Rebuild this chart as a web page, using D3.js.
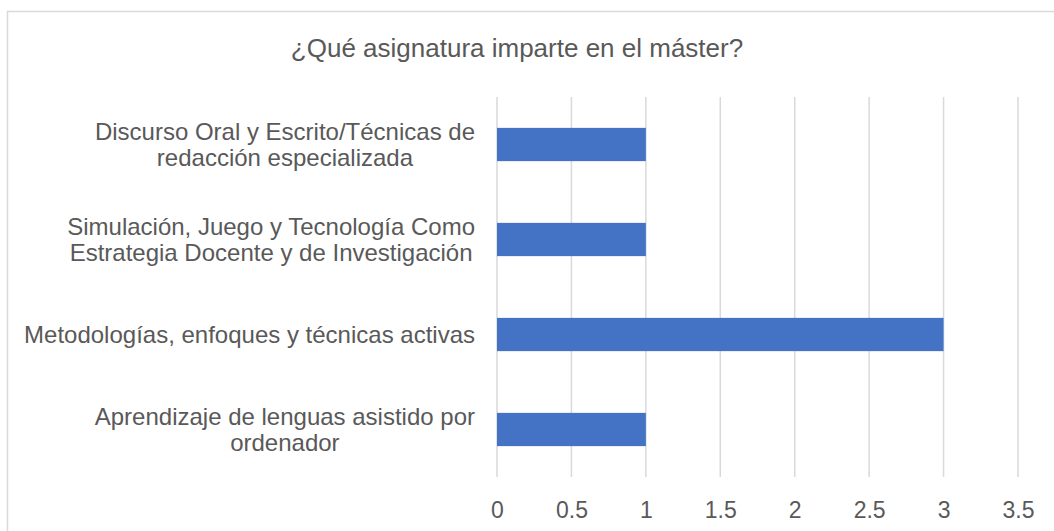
<!DOCTYPE html>
<html>
<head>
<meta charset="utf-8">
<script src="https://cdn.jsdelivr.net/npm/d3@7"></script>
<style>
  body { margin: 0; background: #fff; }
  svg { display: block; font-family: "Liberation Sans", Arial, sans-serif; }
</style>
</head>
<body>
<div id="chart"></div>
<script>
var title = "¿Qué asignatura imparte en el máster?";
var categories = [
	["Discurso Oral y Escrito/Técnicas de", "redacción especializada"],
	["Simulación, Juego y Tecnología Como", "Estrategia Docente y de Investigación"],
	["Metodologías, enfoques y técnicas activas"],
	["Aprendizaje de lenguas asistido por", "ordenador"]
];
var values = [1, 1, 3, 1];
var xTicks = [0, 0.5, 1, 1.5, 2, 2.5, 3, 3.5];

var W = 1054, H = 531;
var plot = {left: 497, right: 1018, top: 97, bottom: 477};

var svg = d3.select("#chart").append("svg")
	.attr("width", W)
	.attr("height", H);

//marco del grafico
svg.append("rect")
	.attr("x", 7.5).attr("y", 11.5)
	.attr("width", W + 20).attr("height", H + 20)
	.attr("fill", "#fff")
	.attr("stroke", "#d9d9d9")
	.attr("stroke-width", 1.5);

svg.append("text")
	.attr("x", 517).attr("y", 57)
	.attr("text-anchor", "middle")
	.attr("font-size", 26)
	.attr("fill", "#595959")
	.text(title);

var x = d3.scaleLinear()
	.domain([0, 3.5])
	.range([plot.left, plot.right]);

var y = d3.scaleBand()
	.domain(d3.range(categories.length))
	.range([plot.top, plot.bottom])
	.paddingInner(0.65)
	.paddingOuter(0.325);

var band = d3.scaleBand()
	.domain(d3.range(categories.length))
	.range([plot.top, plot.bottom]);

//lineas de la cuadricula
svg.append("g")
	.selectAll("line")
	.data(xTicks)
	.enter().append("line")
	.attr("x1", function(d) { return x(d); })
	.attr("x2", function(d) { return x(d); })
	.attr("y1", plot.top)
	.attr("y2", plot.bottom)
	.attr("stroke", "#d9d9d9")
	.attr("stroke-width", 1.5);

svg.append("g")
	.selectAll("rect")
	.data(values)
	.enter().append("rect")
	.attr("x", x(0))
	.attr("y", function(d, i) { return y(i); })
	.attr("width", function(d) { return x(d) - x(0); })
	.attr("height", y.bandwidth())
	.attr("fill", "#4472c4");

//eje x
var xAxis = svg.append("g")
	.attr("transform", "translate(0," + plot.bottom + ")")
	.call(d3.axisBottom(x).tickValues(xTicks).tickSize(0).tickPadding(41)
		.tickFormat(function(d) { return String(d); }));
xAxis.select(".domain").remove();
xAxis.selectAll("text")
	.attr("font-size", 23)
	.attr("font-family", "Liberation Sans, Arial, sans-serif")
	.attr("fill", "#595959")
	.attr("dy", 0);

//etiquetas de categorias
var lineH = 25.5;
var labels = svg.append("g")
	.selectAll("g")
	.data(categories)
	.enter().append("g");

labels.each(function(lines, i) {
	var g = d3.select(this);
	var cy = band(i) + band.bandwidth() / 2;
	var texts = g.selectAll("text")
		.data(lines)
		.enter().append("text")
		.attr("font-size", 24)
		.attr("fill", "#595959")
		.attr("text-anchor", "middle")
		.attr("y", function(d, k) { return cy + (k - (lines.length - 1) / 2) * lineH + 8.5; })
		.text(function(d) { return d; });
	var maxW = d3.max(texts.nodes(), function(n) { return n.getComputedTextLength(); });
	texts.attr("x", 475 - maxW / 2);
});
</script>
</body>
</html>
